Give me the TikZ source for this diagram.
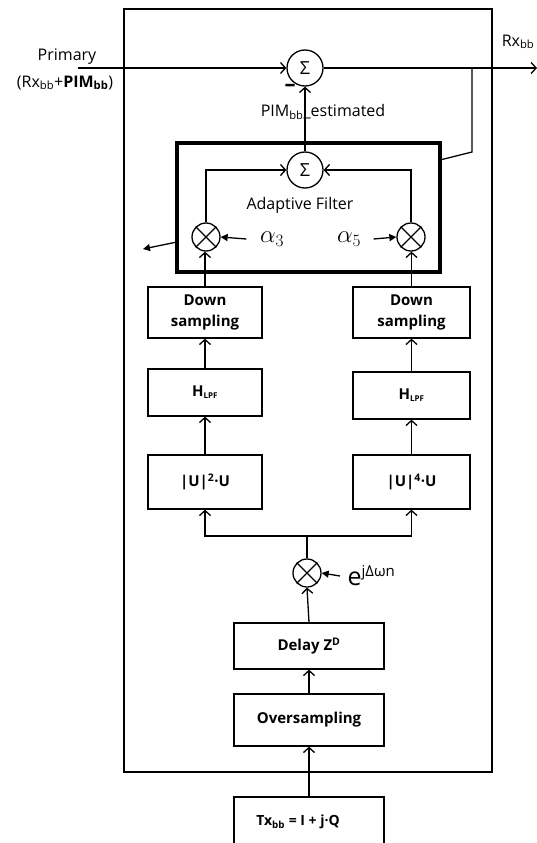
\documentclass[tikz,border=0pt]{standalone}
\usepackage{fontspec}
\setmainfont{Open Sans}
\usetikzlibrary{arrows.meta}
\begin{document}
\begin{tikzpicture}[x=1pt,y=-1pt,line width=1.3pt,
  open/.style={-{Straight Barb[length=5pt,width=11pt,line width=1.3pt]}},
  farr/.style={-{Triangle[length=7pt,width=7pt]}},
  blk/.style={draw,inner sep=0pt,align=center,font=\fontsize{15}{21}\selectfont\bfseries},
  opc/.style={draw,circle,minimum size=28pt,inner sep=0pt},
  sumc/.style={draw,circle,minimum size=36pt,inner sep=0pt,font=\fontsize{18}{18}\selectfont},
  lbl/.style={font=\fontsize{16}{19}\selectfont,inner sep=0pt,align=center},
  alph/.style={font=\fontsize{25}{25}\selectfont,inner sep=0pt}]
\useasboundingbox (0,0) rectangle (537,843);
% outer frame
\node[draw,minimum width=368pt,minimum height=763pt,inner sep=0pt] (outer) at (308,390.5) {};
% sums
\node[sumc] (sum1) at (305,68) {Σ};
\node[sumc] (sum2) at (305,170) {Σ};
% adaptive filter box
\node[draw,line width=3.5pt,minimum width=263pt,minimum height=129pt,inner sep=0pt] (af) at (308.5,207.5) {};
\node[lbl] (aft) at (300,205) {Adaptive Filter};
% multipliers
\node[opc] (mulL) at (206,237) {};
\node[opc] (mulR) at (411,237) {};
\node[opc] (mul3) at (307,573) {};
\foreach \m in {mulL,mulR,mul3}{
  \draw (\m.north east) -- (\m.south west);
  \draw (\m.north west) -- (\m.south east);
}
% blocks
\node[blk,minimum width=114pt,minimum height=51pt] (dsL) at (205,312.5) {Down\\sampling};
\node[blk,minimum width=117pt,minimum height=51pt] (dsR) at (411.5,312.5) {Down\\sampling};
\node[blk,minimum width=114pt,minimum height=47pt] (hL) at (205,392.5) {H\textsubscript{\fontsize{8}{8}\selectfont LPF}};
\node[blk,minimum width=117pt,minimum height=47pt] (hR) at (411.5,395.5) {H\textsubscript{\fontsize{8}{8}\selectfont LPF}};
\node[blk,minimum width=114pt,minimum height=54pt] (uL) at (205,482) {|U|\textsuperscript{2}·U};
\node[blk,minimum width=117pt,minimum height=54pt] (uR) at (411.5,482) {|U|\textsuperscript{4}·U};
\node[blk,minimum width=150pt,minimum height=46pt] (delay) at (309,646) {Delay Z\textsuperscript{D}};
\node[blk,minimum width=150pt,minimum height=52pt] (over) at (309,720) {Oversampling};
\node[draw,minimum width=150pt,minimum height=51pt,inner sep=0pt] (tx) at (309,822.5) {};
\node[font=\fontsize{14}{18}\selectfont\bfseries,inner sep=0pt] (txt) at (298,822) {Tx\textsubscript{bb} = I + j·Q};
% texts
\node[lbl] (prim) at (67,57) {Primary};
\node[lbl] (prim2) at (65,83) {(Rx\textsubscript{bb}+\textbf{PIM\textsubscript{bb}})};
\node[lbl,anchor=east] (rxo) at (535,42) {Rx\textsubscript{bb}};
\node[lbl] (pime) at (323,112) {PIM\textsubscript{bb}\_estimated};
\node[font=\fontsize{22}{22}\selectfont\bfseries,inner sep=0pt] (minus) at (290,88) {–};
\node[alph] (a3) at (272,239) {$\alpha_3$};
\node[alph] (a5) at (349,239) {$\alpha_5$};
\node[inner sep=0pt,anchor=west] (ejw) at (347,576) {\fontsize{25}{25}\selectfont e\raisebox{9pt}{\fontsize{15}{15}\selectfont jΔωn}};
% connectors
\coordinate (pin) at (78,68);
\coordinate (out) at (537,68);
\coordinate (br) at (472,68);
\coordinate (brk) at (472,152);
\coordinate (afr) at (440,160);
\coordinate (lout) at (143,249);
\coordinate (afl) at (177,242);
\coordinate (jn) at (307,536);
\draw[open] (pin) -- (sum1.west);
\draw[open] (sum1.east) -- (out);
\draw (br) -- (brk) -- (afr);
\draw[open] (sum2.north) -- (sum1.south);
\draw[open] (mulL.north) |- (sum2.west);
\draw[open] (mulR.north) |- (sum2.east);
\draw[farr] ([xshift=-13pt]a3.west) -- (mulL.east);
\draw[farr] ([xshift=12pt]a5.east) -- (mulR.west);
\draw[farr] (afl) -- (lout);
\draw[open] (dsL.north) -- (dsL.north |- mulL.south);
\draw[open] (dsR.north) -- (dsR.north |- mulR.south);
\draw[open] (hL.north) -- (dsL.south);
\draw[open] (hR.north) -- (dsR.south);
\draw[open] (uL.north) -- (hL.south);
\draw[open] (uR.north) -- (hR.south);
\draw (mul3.north) -- (jn);
\draw[open] (jn) -| (uL.south);
\draw[open] (jn) -| (uR.south);
\draw[farr] ([xshift=-7pt]ejw.west) -- (mul3.east);
\draw[open] (delay.north) -- (mul3.south);
\draw[open] (over.north) -- (delay.south);
\draw[open] (tx.north) -- (over.south);
\end{tikzpicture}
\end{document}
